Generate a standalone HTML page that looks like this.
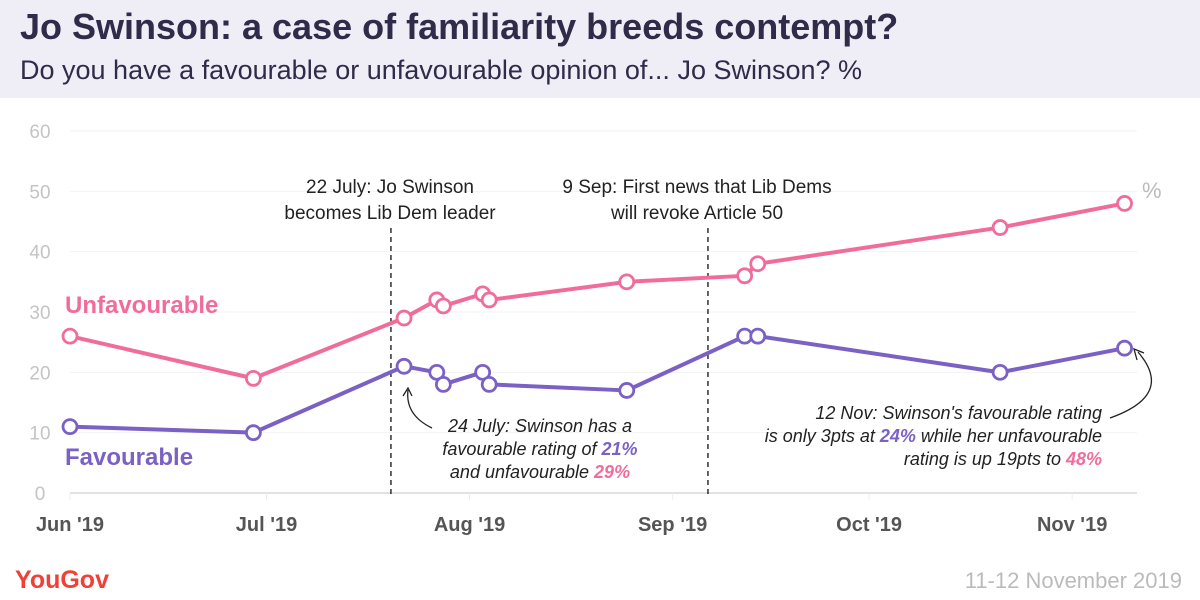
<!DOCTYPE html>
<html><head><meta charset="utf-8"><style>
body{margin:0;width:1200px;height:600px;background:#fff;font-family:"Liberation Sans",sans-serif;overflow:hidden;position:relative}
#hdr{position:absolute;left:0;top:0;width:1200px;height:98px;background:#efedf6}
#title{position:absolute;left:20px;top:6px;font-size:36px;font-weight:bold;color:#2f2b48}
#sub{position:absolute;left:20px;top:55px;font-size:27px;color:#2f2b48}
</style></head><body>
<div id="hdr"></div>
<div id="title">Jo Swinson: a case of familiarity breeds contempt?</div>
<div id="sub">Do you have a favourable or unfavourable opinion of... Jo Swinson? %</div>
<svg id="chart" width="1200" height="600" style="position:absolute;left:0;top:0"></svg>
<script>
const days=[0,28,51,56,57,63,64,85,103,105,142,161];
const unfav=[26,19,29,32,31,33,32,35,36,38,44,48];
const fav=[11,10,21,20,18,20,18,17,26,26,20,24];
const yTicks=[0,10,20,30,40,50,60];
const monthLabels=["Jun '19","Jul '19","Aug '19","Sep '19","Oct '19","Nov '19"];
const monthDays=[0,30,61,92,122,153];
const eventDays=[49,97.4];
const NS="http://www.w3.org/2000/svg";
const svg=document.getElementById('chart');
const X=d=>70+d*6.55, Y=v=>493-v*6.033;
function mk(t,a,txt){const e=document.createElementNS(NS,t);for(const k in a)e.setAttribute(k,a[k]);if(txt!==undefined)e.textContent=txt;svg.appendChild(e);return e;}
yTicks.forEach(v=>{
 const g=mk('line',{x1:70,x2:1137,y1:Y(v),y2:Y(v),stroke:v===0?'#e2e2e2':'#f2f2f2','stroke-width':v===0?2:1});
 
 
 const t=mk('text',{x:40,y:Y(v)+7,'text-anchor':'middle','font-size':19,fill:'#c4c4c4'},v);
 
 
});
monthDays.forEach((d,i)=>{
 const l=mk('line',{x1:X(d),x2:X(d),y1:493,y2:500,stroke:'#eee','stroke-width':1});
 
 
 const t=mk('text',{x:X(d),y:531,'text-anchor':'middle','font-size':20,fill:'#555','font-weight':'bold'},monthLabels[i]);
 
 
});
eventDays.forEach(d=>{
 const l=mk('line',{x1:X(d),x2:X(d),y1:228,y2:495,stroke:'#111','stroke-width':1.3,'stroke-dasharray':'5,4'});
 
 
});
function ann(x,lines,y0,name){lines.forEach((s,i)=>{const t=mk('text',{x:x,y:y0+i*26,'text-anchor':'middle','font-size':19,fill:'#222'},s);
 
 });}
ann(390,["22 July: Jo Swinson","becomes Lib Dem leader"],193,'event-annotation-leader');
ann(697,["9 Sep: First news that Lib Dems","will revoke Article 50"],193,'event-annotation-article50');
function series(vals,col,name){
 const p=mk('polyline',{points:days.map((d,i)=>X(d)+','+Y(vals[i])).join(' '),fill:'none',stroke:col,'stroke-width':4,'stroke-linejoin':'round'});
 
 
 days.forEach((d,i)=>{const c=mk('circle',{cx:X(d),cy:Y(vals[i]),r:7,fill:'#fff',stroke:col,'stroke-width':2.8});
 
 });
}
series(unfav,'#f06d9b','unfavourable');
series(fav,'#7b61c4','favourable');
let t=mk('text',{x:65,y:313,'font-size':24,'font-weight':'bold',fill:'#f06d9b'},'Unfavourable');


t=mk('text',{x:65,y:465,'font-size':24,'font-weight':'bold',fill:'#7b61c4'},'Favourable');


t=mk('text',{x:1142,y:198,'font-size':22,fill:'#bbb'},'%');


const a1=mk('text',{x:540,y:432,'text-anchor':'middle','font-size':18,'font-style':'italic',fill:'#222'});
a1.innerHTML='<tspan x="540">24 July: Swinson has a</tspan><tspan x="540" dy="23">favourable rating of <tspan fill="#7b61c4" font-weight="bold">21%</tspan></tspan><tspan x="540" dy="23">and unfavourable <tspan fill="#f06d9b" font-weight="bold">29%</tspan></tspan>';


const a2=mk('text',{x:1102,y:419,'text-anchor':'end','font-size':18,'font-style':'italic',fill:'#222'});
a2.innerHTML='<tspan x="1102">12 Nov: Swinson\'s favourable rating</tspan><tspan x="1102" dy="23">is only 3pts at <tspan fill="#7b61c4" font-weight="bold">24%</tspan> while her unfavourable</tspan><tspan x="1102" dy="23">rating is up 19pts to <tspan fill="#f06d9b" font-weight="bold">48%</tspan></tspan>';


let ar=mk('path',{d:'M432,428 Q405,415 408,390',fill:'none',stroke:'#222','stroke-width':1.3});


mk('path',{d:'M403,396 L408,388 L412,396',fill:'none',stroke:'#222','stroke-width':1.3});
ar=mk('path',{d:'M1110,418 Q1175,395 1138,352',fill:'none',stroke:'#222','stroke-width':1.3});


mk('path',{d:'M1137,360 L1134,349 L1144,353',fill:'none',stroke:'#222','stroke-width':1.3});
t=mk('text',{x:15,y:588,'font-size':25,fill:'#ef4136','font-weight':'bold'},'YouGov');


t=mk('text',{x:1182,y:588,'text-anchor':'end','font-size':22,fill:'#bbb'},'11-12 November 2019');


</script>
</body></html>
